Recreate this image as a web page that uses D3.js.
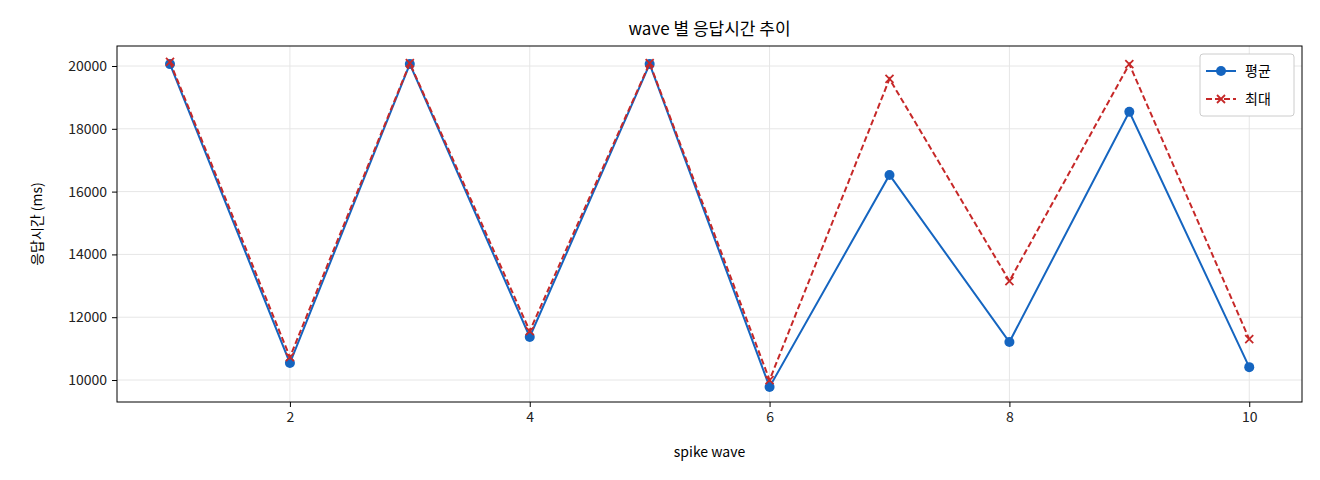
<!DOCTYPE html><html><head><meta charset="utf-8"><script src="https://cdn.jsdelivr.net/npm/d3@7"></script>
<style>body{margin:0;background:#fff}text{font-family:"Noto Sans CJK KR","DejaVu Sans",sans-serif}</style></head><body><svg id="c" width="1320" height="480"></svg>
<script>
const waves=[1,2,3,4,5,6,7,8,9,10];
const avgVals=[20060,10540,20060,11370,20060,9780,16530,11210,18540,10410];
const maxVals=[20130,10730,20090,11560,20090,10000,19590,13150,20060,11300];
const xTicks=[2,4,6,8,10];
const yTicks=[10000,12000,14000,16000,18000,20000];
const svg=d3.select("#c");
const L=117,R=1302,T=46,B=402;
const x=d3.scaleLinear().domain([0.558,10.44]).range([L,R]);
const y=d3.scaleLinear().domain([9300,20637]).range([B,T]);
const g=svg.append("g");
xTicks.forEach(t=>g.append("line").attr("x1",x(t)).attr("x2",x(t)).attr("y1",T).attr("y2",B).attr("stroke","#e6e6e6"));
yTicks.forEach(t=>g.append("line").attr("x1",L).attr("x2",R).attr("y1",y(t)).attr("y2",y(t)).attr("stroke","#e6e6e6"));
const xa=svg.append("g").attr("transform",`translate(0,${B})`).call(d3.axisBottom(x).tickValues(xTicks).tickSize(5).tickPadding(5));
const ya=svg.append("g").attr("transform",`translate(${L},0)`).call(d3.axisLeft(y).tickValues(yTicks).tickSize(5).tickPadding(5).tickFormat(d3.format("d")));
[xa,ya].forEach(a=>{a.selectAll("text").attr("font-size",14).attr("fill","#222");a.select(".domain").remove();});
svg.append("rect").attr("x",L).attr("y",T).attr("width",R-L).attr("height",B-T).attr("fill","none").attr("stroke","#000");
const line=d3.line().x((d,i)=>x(waves[i])).y(d=>y(d));
svg.append("path").datum(avgVals).attr("d",line).attr("fill","none").attr("stroke","#1565c0").attr("stroke-width",2);
svg.selectAll(".dot").data(avgVals).enter().append("circle").attr("cx",(d,i)=>x(waves[i])).attr("cy",d=>y(d)).attr("r",5).attr("fill","#1565c0");
svg.append("path").datum(maxVals).attr("d",line).attr("fill","none").attr("stroke","#c62828").attr("stroke-width",2).attr("stroke-dasharray","6,3");
const cross=(sel,cx,cy)=>{sel.append("path").attr("d",`M${cx-4},${cy-4}L${cx+4},${cy+4}M${cx-4},${cy+4}L${cx+4},${cy-4}`).attr("stroke","#c62828").attr("stroke-width",1.8);};
maxVals.forEach((d,i)=>cross(svg,x(waves[i]),y(d)));
svg.append("text").attr("x",(L+R)/2).attr("y",35).attr("text-anchor","middle").attr("font-size",17).text("wave 별 응답시간 추이");
svg.append("text").attr("x",(L+R)/2).attr("y",457).attr("text-anchor","middle").attr("font-size",14).text("spike wave");
svg.append("text").attr("transform",`translate(42,${(T+B)/2}) rotate(-90)`).attr("text-anchor","middle").attr("font-size",14).text("응답시간 (ms)");
const lg=svg.append("g");
lg.append("rect").attr("x",1200).attr("y",54).attr("width",94).attr("height",62).attr("rx",3).attr("fill","#fff").attr("stroke","#ccc");
lg.append("line").attr("x1",1206).attr("x2",1236).attr("y1",71).attr("y2",71).attr("stroke","#1565c0").attr("stroke-width",2);
lg.append("circle").attr("cx",1221).attr("cy",71).attr("r",5).attr("fill","#1565c0");
lg.append("text").attr("x",1245).attr("y",76).attr("font-size",14).text("평균");
lg.append("line").attr("x1",1206).attr("x2",1236).attr("y1",99).attr("y2",99).attr("stroke","#c62828").attr("stroke-width",2).attr("stroke-dasharray","6,3");
cross(lg,1221,99);
lg.append("text").attr("x",1245).attr("y",104).attr("font-size",14).text("최대");
</script></body></html>
